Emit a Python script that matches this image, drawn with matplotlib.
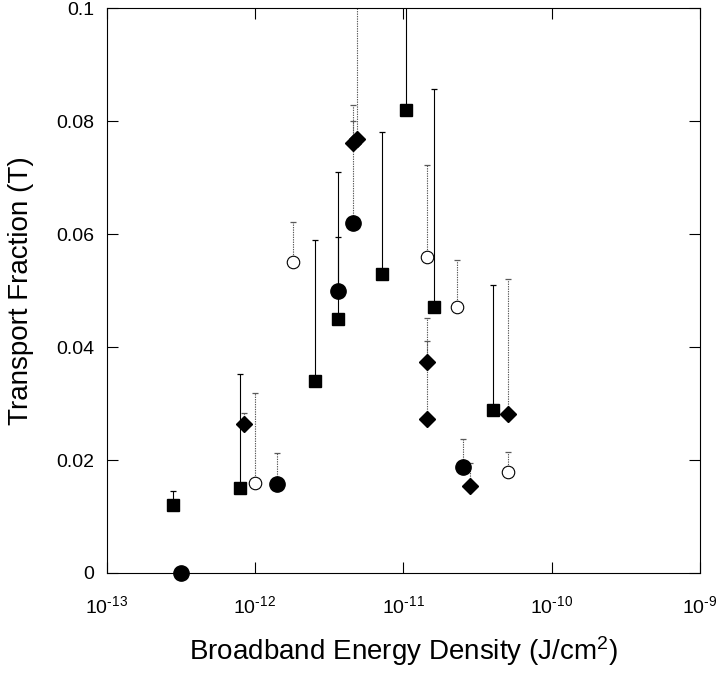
import numpy as np
import matplotlib
matplotlib.use("Agg")
import matplotlib.pyplot as plt

plt.rcParams['font.family'] = ['Liberation Sans', 'DejaVu Sans']
plt.rcParams['mathtext.fontset'] = 'custom'
plt.rcParams['mathtext.rm'] = 'Liberation Sans'
plt.rcParams['mathtext.it'] = 'Liberation Sans:italic'

# filled squares (solid error lines)
sq_x = [2.82e-13, 7.96e-13, 2.54e-12, 3.63e-12, 7.24e-12, 1.05e-11, 1.62e-11, 4.04e-11]
sq_y = [0.012, 0.015, 0.0339, 0.045, 0.0529, 0.0819, 0.047, 0.0288]
sq_up = [0.0145, 0.0353, 0.0589, 0.0595, 0.078, 0.12, 0.0856, 0.0509]

# filled circles
fc_x = [3.16e-13, 1.41e-12, 3.63e-12, 4.59e-12, 2.54e-11]
fc_y = [0.0, 0.0158, 0.05, 0.062, 0.0188]
fc_up = [0.0, 0.0212, 0.071, 0.0828, 0.0237]
fc_solid = [True, False, True, False, False]

# filled diamonds (dotted error lines)
dm_x = [8.43e-13, 4.6e-12, 4.85e-12, 1.44e-11, 1.44e-11, 2.84e-11, 5.07e-11]
dm_y = [0.0263, 0.0762, 0.0768, 0.0374, 0.0273, 0.01545, 0.0282]
dm_up = [0.0283, 0.0800, 0.12, 0.0451, 0.041, 0.0194, 0.0521]

# open circles (dotted error lines)
oc_x = [1.0e-12, 1.82e-12, 1.45e-11, 2.29e-11, 5.05e-11]
oc_y = [0.0159, 0.055, 0.056, 0.047, 0.0179]
oc_up = [0.0319, 0.0622, 0.0722, 0.0554, 0.0214]

x_ticks = [1e-13, 1e-12, 1e-11, 1e-10, 1e-9]
x_labels = ['$10^{\\text{-13}}$', '$10^{\\text{-12}}$', '$10^{\\text{-11}}$',
            '$10^{\\text{-10}}$', '$10^{\\text{-9}}$']
y_ticks = [0, 0.02, 0.04, 0.06, 0.08, 0.1]
y_labels = ['0', '0.02', '0.04', '0.06', '0.08', '0.1']

fig = plt.figure(figsize=(7.2, 6.73), dpi=100)
ax = fig.add_axes([0.148, 0.1486, 0.824, 0.8394])

dotted = (0, (1.2, 1.0))


def err_lines(x, y, up, solid):
    # one-sided (upper) error bars with a small cap
    for xi, yi, ui, s in zip(x, y, up, solid):
        if ui <= yi:
            continue
        color = 'black' if s else '0.35'
        ax.vlines(xi, yi, ui, colors=color, linewidth=0.8,
                  linestyles='solid' if s else dotted, zorder=1)
        ax.plot([xi], [ui], marker='_', ms=5, mew=0.9, color=color,
                ls='none', zorder=1)


err_lines(sq_x, sq_y, sq_up, [True] * len(sq_x))
err_lines(fc_x, fc_y, fc_up, fc_solid)
err_lines(dm_x, dm_y, dm_up, [False] * len(dm_x))
err_lines(oc_x, oc_y, oc_up, [False] * len(oc_x))

ax.plot(sq_x, sq_y, 's', ms=9, color='black', ls='none', zorder=3, clip_on=False)
ax.plot(fc_x, fc_y, 'o', ms=11, color='black', ls='none', zorder=3, clip_on=False)
ax.plot(dm_x, dm_y, 'D', ms=8, color='black', ls='none', zorder=3, clip_on=False)
ax.plot(oc_x, oc_y, 'o', ms=9, mfc='white', mec='black', mew=0.8,
        ls='none', zorder=3, clip_on=False)

ax.set_xscale('log')
ax.set_xlim(1e-13, 1e-9)
ax.set_ylim(0, 0.1)
ax.set_xticks(x_ticks)
ax.set_xticklabels(x_labels)
ax.set_yticks(y_ticks)
ax.set_yticklabels(y_labels)
ax.minorticks_off()
ax.tick_params(direction='in', length=8, width=0.8, top=True, right=True,
               labelsize=14)
ax.tick_params(axis='x', pad=16)
ax.tick_params(axis='y', pad=9)
for sp in ax.spines.values():
    sp.set_linewidth(0.8)

ax.set_xlabel('Broadband Energy Density (J/cm$^2$)', fontsize=20, labelpad=12)
ax.set_ylabel('Transport Fraction (T)', fontsize=20, labelpad=16)

fig.savefig('out.png', dpi=100)
